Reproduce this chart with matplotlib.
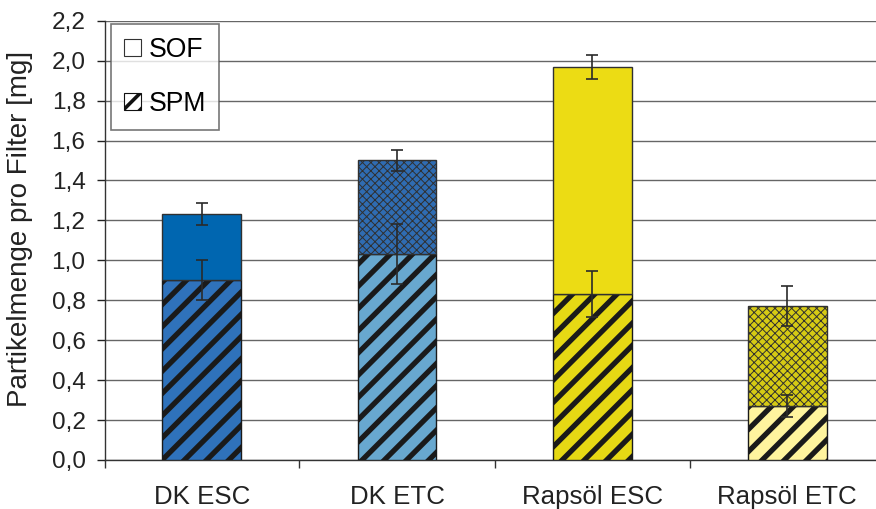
import matplotlib
matplotlib.use('Agg')
import matplotlib.pyplot as plt
from matplotlib.patches import Patch
from matplotlib.ticker import FuncFormatter, FixedLocator

plt.rcParams['font.family'] = ['Liberation Sans', 'DejaVu Sans']

categories = ['DK ESC', 'DK ETC', 'Rapsöl ESC', 'Rapsöl ETC']
spm = [0.90, 1.03, 0.83, 0.27]
sof = [0.33, 0.47, 1.14, 0.50]
spm_err = [0.10, 0.15, 0.115, 0.055]
total_err = [0.055, 0.055, 0.06, 0.10]

spm_colors = ['#2f72bb', '#68a8cf', '#e6d914', '#fff49e']
sof_colors = ['#0066b0', '#2f6cb2', '#ecdc14', '#d6ca14']
sof_hatches = ['', 'xxxxxxxx', '', 'xxxxxxxx']

fig = plt.figure(figsize=(4.38, 2.545), dpi=200)
ax = fig.add_axes([0.1199, 0.0963, 0.8801, 0.863])

x = list(range(len(categories)))
width = 0.405
edge = '#303030'

for i in x:
    with plt.rc_context({'hatch.linewidth': 1.9}):
        b = ax.bar(i, spm[i], width, color=spm_colors[i], edgecolor='#1a1a1a',
                   hatch='///', linewidth=0.5, zorder=3)
        for p in b:
            if hasattr(p, 'set_hatch_linewidth'):
                p.set_hatch_linewidth(1.9)
    with plt.rc_context({'hatch.linewidth': 0.35}):
        b2 = ax.bar(i, sof[i], width, bottom=spm[i], color=sof_colors[i],
                    edgecolor=edge, hatch=sof_hatches[i], linewidth=0.5, zorder=3)
        for p in b2:
            if hasattr(p, 'set_hatch_linewidth'):
                p.set_hatch_linewidth(0.35)

totals = [a + b for a, b in zip(spm, sof)]
ax.errorbar(x, spm, yerr=spm_err, fmt='none', ecolor='#2a2a2a', elinewidth=0.6,
            capsize=2.2, capthick=0.6, zorder=4)
ax.errorbar(x, totals, yerr=total_err, fmt='none', ecolor='#2a2a2a', elinewidth=0.6,
            capsize=2.2, capthick=0.6, zorder=4)

ax.set_xlim(-0.497, 3.456)
ax.set_ylim(0, 2.2)
ax.set_yticks([i * 0.2 for i in range(12)])
ax.yaxis.set_major_formatter(FuncFormatter(lambda v, p: f'{v:.1f}'.replace('.', ',')))
ax.set_xticks(x)
ax.set_xticklabels(categories)
ax.xaxis.set_minor_locator(FixedLocator([-0.497, 0.5, 1.5, 2.5]))
ax.tick_params(axis='x', which='major', length=0, labelsize=9.3, pad=9, colors='#222222')
ax.tick_params(axis='x', which='minor', length=3.0, width=0.5, direction='out', color='#333333')
ax.tick_params(axis='y', which='major', length=3.0, width=0.5, labelsize=8.8, pad=4,
               colors='#222222')

for s in ['top', 'right']:
    ax.spines[s].set_visible(False)
for s in ['left', 'bottom']:
    ax.spines[s].set_linewidth(0.5)
    ax.spines[s].set_color('#333333')

ax.grid(axis='y', color='#666666', linewidth=0.5, zorder=0)
ax.set_axisbelow(True)

ax.set_ylabel('Partikelmenge pro Filter [mg]', fontsize=10.0, color='#222222')
ax.yaxis.set_label_coords(-0.093, 0.527)

handles = [Patch(facecolor='white', edgecolor='#333333', linewidth=0.4, label='SOF'),
           Patch(facecolor='white', edgecolor='#111111', hatch='////', linewidth=0.4, label='SPM')]
with plt.rc_context({'hatch.linewidth': 1.3}):
    leg = ax.legend(handles=handles, loc='upper left', bbox_to_anchor=(0.0078, 0.9925),
                    borderaxespad=0, fancybox=False, frameon=True, fontsize=9.6,
                    handlelength=0.65, handleheight=0.65, handletextpad=0.3,
                    labelspacing=1.05, borderpad=0.48)
leg.get_frame().set_edgecolor('#555555')
leg.get_frame().set_linewidth(0.6)
leg.set_zorder(5)

fig.savefig('out.png', dpi=200)
